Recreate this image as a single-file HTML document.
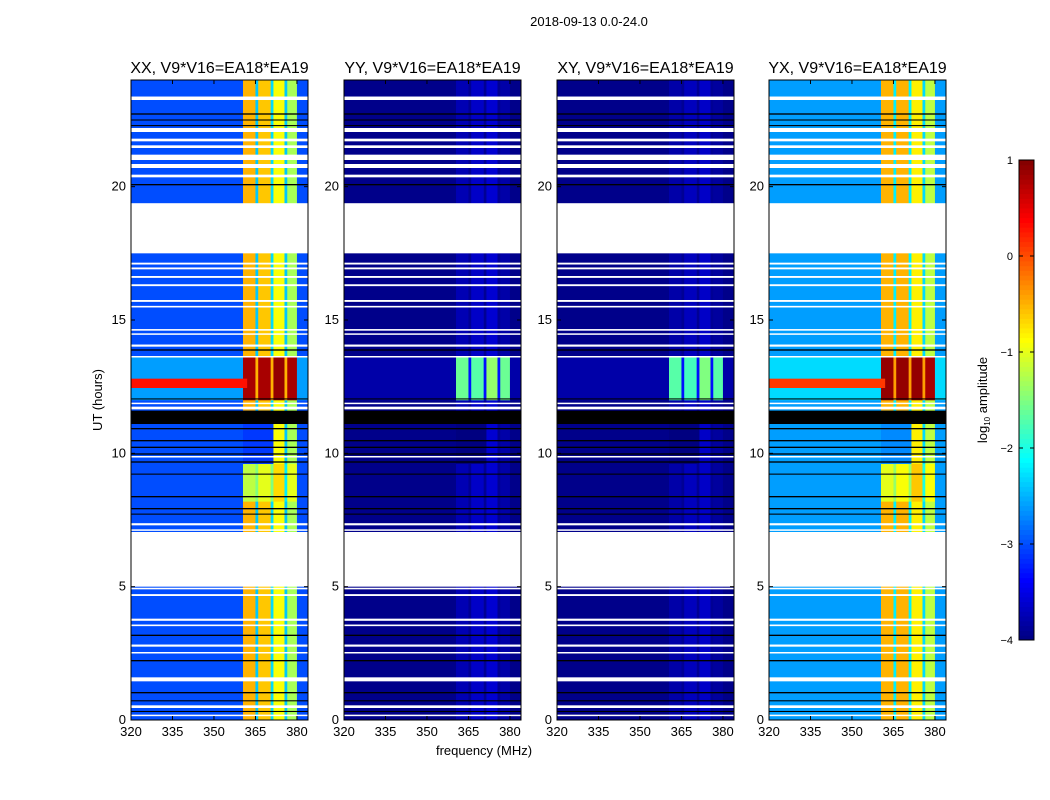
<!DOCTYPE html>
<html><head><meta charset="utf-8"><style>
body{margin:0;background:#fff;font-family:"Liberation Sans","DejaVu Sans",sans-serif;}
svg{display:block}
</style></head><body>
<svg id="fig" width="1050" height="800" xmlns="http://www.w3.org/2000/svg">
<rect width="1050" height="800" fill="#fff"/>
<text x="589" y="26" font-size="13" text-anchor="middle">2018-09-13 0.0-24.0</text>
<text transform="translate(102,400) rotate(-90)" font-size="13" text-anchor="middle">UT (hours)</text>
<text x="484" y="755" font-size="13" text-anchor="middle">frequency (MHz)</text>
<g id="panels"></g>
<g id="cbar"></g>
<text transform="translate(987,400) rotate(-90)" font-size="13" text-anchor="middle">log<tspan font-size="8" dy="3">10</tspan><tspan dy="-3"> amplitude</tspan></text>
</svg>
<script>
// ---- data ----
const panelNames = ["XX","YY","XY","YX"];
const bandEdges = [320,360.5,365,366,370.5,371.5,375.5,376.5,380,384];
// log10 amplitude per band, normal rows
const normalXX = [-3.0,-0.5,-2.4,-0.6,-2.3,-0.9,-2.4,-1.3,-3.0];
const normalYY = [-3.95,-3.75,-3.9,-3.65,-3.9,-3.6,-3.9,-3.8,-3.95];
const normalXY = [-3.95,-3.8,-3.9,-3.7,-3.9,-3.65,-3.9,-3.85,-3.95];
const normalYX = [-2.6,-0.5,-2.2,-0.5,-2.2,-0.8,-2.3,-1.2,-2.6];
// hot event rows
const hotXX = [-2.6,0.8,-0.5,0.8,-0.5,0.9,-0.5,0.8,-2.6];
const hotYY = [-3.8,-1.6,-3.3,-1.7,-3.3,-1.4,-3.3,-1.6,-3.8];
const hotXY = [-3.8,-1.7,-3.3,-1.8,-3.3,-1.5,-3.3,-1.7,-3.8];
const hotYX = [-2.3,0.9,-0.4,0.9,-0.4,0.9,-0.4,0.8,-2.3];
// mid event (8.2-9.6h)
const midXX = [-3.0,-1.2,-1.5,-1.0,-1.5,-0.7,-2.2,-1.0,-3.0];
const midYX = [-2.6,-1.0,-1.4,-0.9,-1.4,-0.6,-2.0,-0.9,-2.6];
const hotRows = [[12.0,13.6]];
const midRows = [[8.2,9.6]];
const dimLeftRows = [[9.6,11.6]];
const stripeRows = [[12.45,12.8]];
const stripeVal = [0.3,null,null,0.1];
const whiteRows = [[23.25,23.38],[22.05,22.2],[21.7,21.8],[21.45,21.55],[21.0,21.2],[20.7,20.85],[20.35,20.45],[17.5,19.38],[17.08,17.15],[16.9,16.97],[16.58,16.65],[16.27,16.34],[15.68,15.75],[15.47,15.53],[14.6,14.66],[14.45,14.5],[14.0,14.08],[13.6,13.65],[11.65,11.75],[11.85,11.9],[9.85,9.9],[7.3,7.38],[7.1,7.15],[5.0,7.05],[4.9,4.96],[4.65,4.72],[3.72,3.8],[3.52,3.58],[2.75,2.83],[2.5,2.55],[1.45,1.6],[0.45,0.55],[0.15,0.2]];
const blackRows = [[22.7,22.75],[22.48,22.52],[22.27,22.31],[20.05,20.1],[13.85,13.9],[12.02,12.06],[11.1,11.6],[10.9,10.95],[10.45,10.5],[10.2,10.25],[9.95,10.0],[9.65,9.7],[9.2,9.24],[8.35,8.4],[7.9,7.95],[7.7,7.74],[3.15,3.2],[2.2,2.25],[1.0,1.05],[0.7,0.74],[0.3,0.34]];
const yTicks = [0,5,10,15,20];
const xTicks = [320,335,350,365,380];
const cbTicks = [1,0,-1,-2,-3,-4];

const normals=[normalXX,normalYY,normalXY,normalYX];
const hots=[hotXX,hotYY,hotXY,hotYX];
const mids=[midXX,normalYY,normalXY,midYX];
const panelX=[131,344,557,769];
const PW=177, PT=80, PB=720;
const NS="http://www.w3.org/2000/svg";
function jet(v){let t=(v+4)/5;t=Math.max(0,Math.min(1,t));
 const f=x=>Math.max(0,Math.min(1,x));
 const r=f(1.5-Math.abs(4*t-3)),g=f(1.5-Math.abs(4*t-2)),b=f(1.5-Math.abs(4*t-1));
 return `rgb(${Math.round(r*255)},${Math.round(g*255)},${Math.round(b*255)})`;}
function mk(tag,attrs,parent){const e=document.createElementNS(NS,tag);for(const k in attrs)e.setAttribute(k,attrs[k]);parent.appendChild(e);return e;}
const yS=h=>PB-(h/24)*(PB-PT);
const panels=document.getElementById('panels');
panelNames.forEach((nm,p)=>{
 const x0=panelX[p];const xS=f=>x0+(f-320)/(384-320)*PW;
 const g=mk('g',{},panels);
 
 
 const drawBands=(vals,t0,t1,skipLeft)=>{vals.forEach((v,i)=>{if(skipLeft&&i>=1&&i<=4)v=normals[p][0]-0.1;
   const r=mk('rect',{x:xS(bandEdges[i]),y:yS(t1),width:xS(bandEdges[i+1])-xS(bandEdges[i])+0.3,height:yS(t0)-yS(t1)+0.3,fill:jet(v)},g);
   
   });};
 drawBands(normals[p],0,24,false);
 dimLeftRows.forEach(r=>drawBands(normals[p],r[0],r[1],true));
 midRows.forEach(r=>drawBands(mids[p],r[0],r[1],false));
 hotRows.forEach(r=>drawBands(hots[p],r[0],r[1],false));
 if(stripeVal[p]!==null)stripeRows.forEach(r=>{const e=mk('rect',{x:x0,y:yS(r[1]),width:xS(362)-x0,height:yS(r[0])-yS(r[1]),fill:jet(stripeVal[p])},g);
   
   });
 blackRows.forEach(r=>{const e=mk('rect',{x:x0,y:yS(r[1]),width:PW,height:Math.max(1,yS(r[0])-yS(r[1])),fill:'#000'},g);
   
   });
 whiteRows.forEach(r=>{const e=mk('rect',{x:x0,y:yS(r[1]),width:PW,height:Math.max(1.5,yS(r[0])-yS(r[1])),fill:'#fff'},g);
   
   });
 const fr=mk('rect',{x:x0,y:PT,width:PW,height:PB-PT,fill:'none',stroke:'#000','stroke-width':1},g);
 
 
 const tt=mk('text',{x:x0+PW/2,y:73,'font-size':16,'text-anchor':'middle'},g);tt.textContent=nm+', V9*V16=EA18*EA19';
 
 
 yTicks.forEach(h=>{const y=yS(h);mk('line',{x1:x0,x2:x0+4,y1:y,y2:y,stroke:'#000'},g);mk('line',{x1:x0+PW-4,x2:x0+PW,y1:y,y2:y,stroke:'#000'},g);
   const t=mk('text',{x:x0-5,y:y+4,'font-size':13,'text-anchor':'end'},g);t.textContent=h;
   
   });
 xTicks.forEach(f=>{const x=xS(f);mk('line',{x1:x,x2:x,y1:PB,y2:PB-4,stroke:'#000'},g);mk('line',{x1:x,x2:x,y1:PT,y2:PT+4,stroke:'#000'},g);
   const t=mk('text',{x:x,y:PB+16,'font-size':13,'text-anchor':'middle'},g);t.textContent=f;
   
   });
});
// colorbar
const cb=document.getElementById('cbar');


const CT=160,CB=640,CX=1019,CW=15;
const cS=v=>CB-(v+4)/5*(CB-CT);
for(let i=0;i<100;i++){const v0=-4+i*0.05;mk('rect',{x:CX,y:cS(v0+0.05),width:CW,height:(CB-CT)/100+0.5,fill:jet(v0+0.025)},cb);}
mk('rect',{x:CX,y:CT,width:CW,height:CB-CT,fill:'none',stroke:'#000'},cb);
cbTicks.forEach(v=>{const y=cS(v);mk('line',{x1:CX,x2:CX+4,y1:y,y2:y,stroke:'#000'},cb);mk('line',{x1:CX+CW-4,x2:CX+CW,y1:y,y2:y,stroke:'#000'},cb);
 const t=mk('text',{x:1013,y:y+4,'font-size':11,'text-anchor':'end'},cb);t.textContent=v<0?'\u2212'+(-v):v;
 
 });
</script>
</body></html>
